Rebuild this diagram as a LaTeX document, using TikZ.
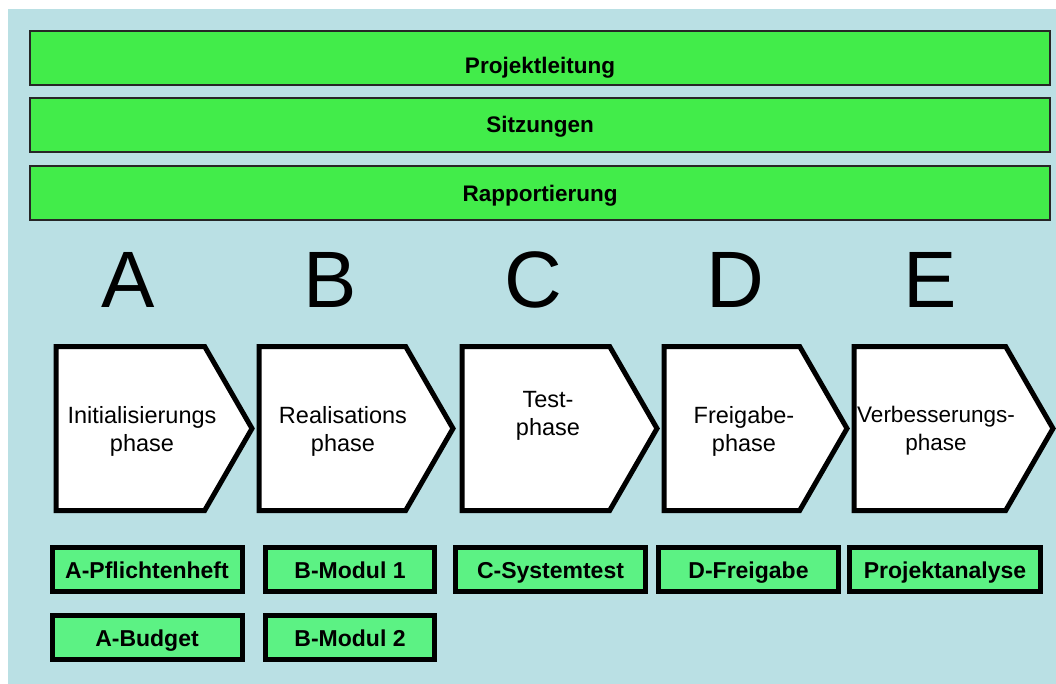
\documentclass[tikz,border=0pt]{standalone}
\usepackage{fontspec}
\setmainfont{Liberation Sans}
\definecolor{bgblue}{RGB}{186, 224, 228}
\definecolor{bargreen}{RGB}{66, 236, 74}
\definecolor{delivgreen}{RGB}{92, 242, 132}
\usetikzlibrary{shapes.symbols, positioning}

\begin{document}
\begin{tikzpicture}[x=1pt, y=-1pt,
  bar/.style={draw=black!85, line width=2pt, fill=bargreen, minimum width=1020pt, minimum height=54pt, inner sep=0pt},
  bartext/.style={inner sep=0pt, font=\fontsize{22.5}{24}\selectfont\bfseries},
  letter/.style={anchor=base, inner sep=0pt, font=\fontsize{80}{80}\selectfont},
  phase/.style={draw=black, line width=5pt, fill=white, signal, signal to=east, signal from=nowhere, signal pointer angle=120, minimum height=164pt, inner sep=0pt, anchor=west},
  phasetext/.style={align=center, inner sep=0pt, font=\fontsize{23.5}{28}\selectfont},
  deliv/.style={draw=black, line width=5pt, fill=delivgreen, minimum width=190pt, minimum height=44pt, inner sep=0pt, text height=19pt, text depth=1pt, font=\fontsize{23}{24}\selectfont\bfseries}]

  \useasboundingbox (0,0) rectangle (1056,684);
  \fill[bgblue] (8,9) rectangle (1056,684);

  % Overarching tasks
  \node[bar] (leitung) at (540,58) {};
  \node[bar] (sitzungen) at (540,125) {};
  \node[bar] (rapport) at (540,193) {};
  \node[bartext] (leitungtxt) at (540,68) {Projektleitung};
  \node[bartext] (sitzungentxt) at (540,127) {Sitzungen};
  \node[bartext] (rapporttxt) at (540,196) {Rapportierung};

  % Phase letters
  \node[letter] (letA) at (128,307) {A};
  \node[letter] (letB) at (330,307) {B};
  \node[letter] (letC) at (533,307) {C};
  \node[letter] (letD) at (735,307) {D};
  \node[letter] (letE) at (930,307) {E};

  % Phases
  \node[phase, minimum width=196pt] (phA) at (53.5,428.5) {};
  \node[phase, minimum width=194pt] (phB) at (256.5,428.5) {};
  \node[phase, minimum width=195pt] (phC) at (459.5,428.5) {};
  \node[phase, minimum width=183pt] (phD) at (661.5,428.5) {};
  \node[phase, minimum width=199pt] (phE) at (851.5,428.5) {};

  \node[phasetext] (txtA) at (142,431) {Initialisierungs\\phase};
  \node[phasetext] (txtB) at (343,431) {Realisations\\phase};
  \node[phasetext] (txtC) at (548,416) {Test-\\phase};
  \node[phasetext] (txtD) at (744,431) {Freigabe-\\phase};
  \node[phasetext, font=\fontsize{22.5}{28}\selectfont] (txtE) at (936,431) {Verbesserungs-\\phase};

  % Deliverables
  \node[deliv] (pflicht) at (147,569.5) {A-Pflichtenheft};
  \node[deliv] (budget) at (147,637.5) {A-Budget};
  \node[deliv, minimum width=169pt] (modul1) at (350,569.5) {B-Modul 1};
  \node[deliv, minimum width=169pt] (modul2) at (350,637.5) {B-Modul 2};
  \node[deliv] (systest) at (550.5,569.5) {C-Systemtest};
  \node[deliv, minimum width=180pt] (freigabe) at (748.5,569.5) {D-Freigabe};
  \node[deliv, minimum width=191pt] (analyse) at (945,569.5) {Projektanalyse};
\end{tikzpicture}
\end{document}
